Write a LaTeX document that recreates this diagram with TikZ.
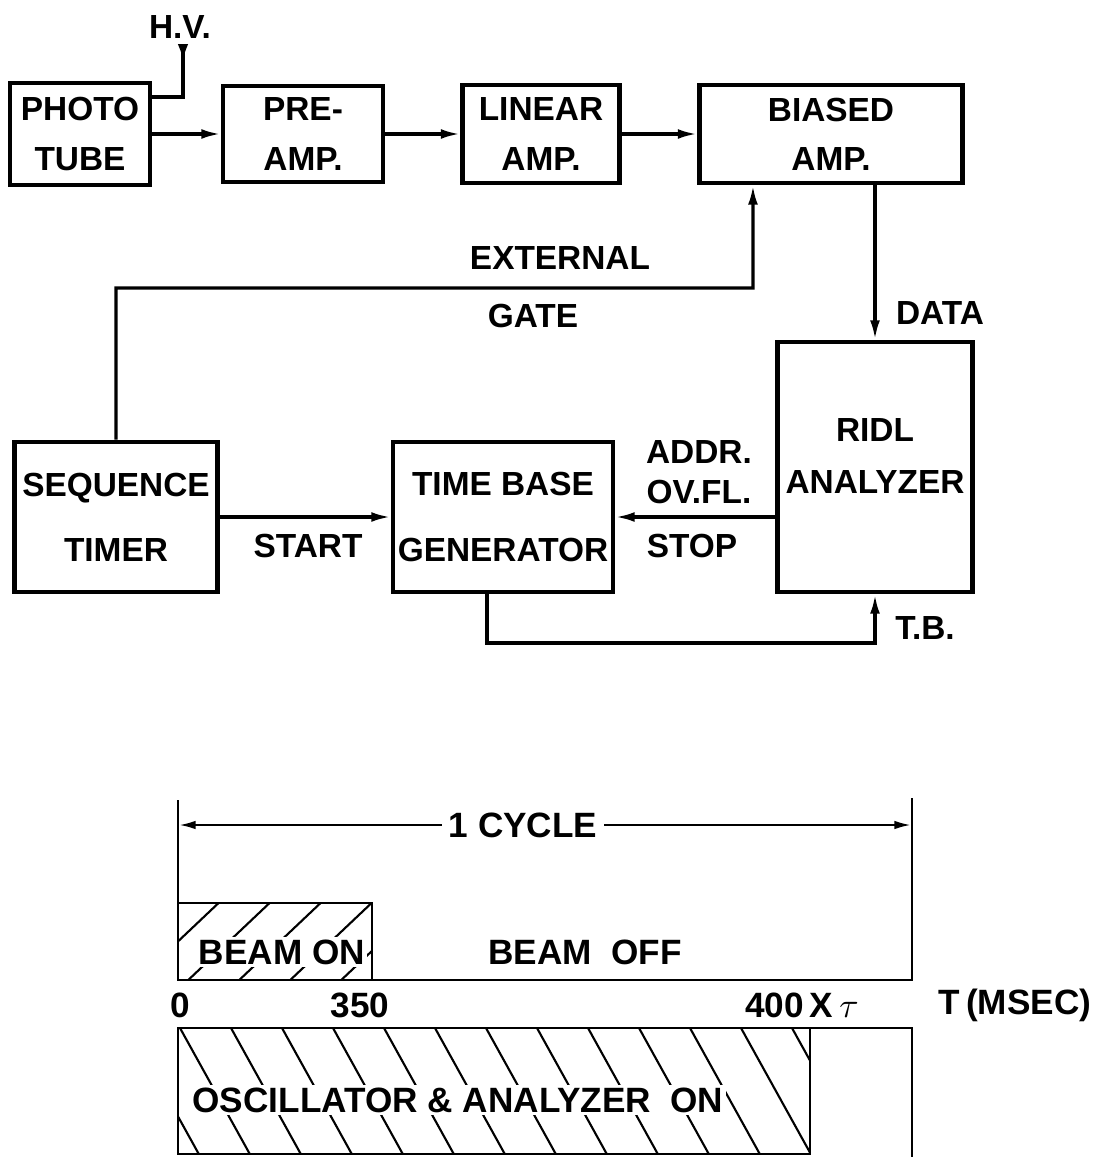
\documentclass[tikz,border=0pt]{standalone}
\usepackage{fontspec}
\setmainfont{Liberation Sans}
\usetikzlibrary{arrows.meta, positioning, calc}

\begin{document}
\begin{tikzpicture}[x=0.01cm, y=-0.01cm,
    blk/.style={draw, line width=1.3pt, inner sep=1pt, align=center,
        font=\fontsize{9.5}{14}\selectfont\bfseries},
    sig/.style={line width=0.9pt, -{Latex[length=5.5pt,width=2.8pt]}},
    lbl/.style={font=\fontsize{9.5}{12}\selectfont\bfseries, inner sep=1pt},
    tline/.style={line width=0.8pt},
    hatch/.style={line width=0.6pt},
    tlbl/.style={font=\fontsize{10}{12}\selectfont\bfseries, inner sep=0.6pt}]
    \useasboundingbox (0,0) rectangle (1100,1157);

    % Signal chain
    \node[blk, minimum width=1.40cm, minimum height=1.02cm] (tube) at (80,134) {PHOTO\\TUBE};
    \node[blk, minimum width=1.60cm, minimum height=0.96cm] (pre) at (303,134) {PRE-\\AMP.};
    \node[blk, minimum width=1.57cm, minimum height=0.98cm] (lin) at (541,134) {LINEAR\\AMP.};
    \node[blk, minimum width=2.63cm, minimum height=0.98cm] (bias) at (831,134) {BIASED\\AMP.};
    \draw[sig] (tube) -- (pre);
    \draw[sig] (pre) -- (lin);
    \draw[sig] (lin) -- (bias);

    % High voltage input
    \node[lbl] (hvl) at (180,27) {H.V.};
    \coordinate (hv) at (183,44);
    \draw[line width=0.9pt, {Latex[length=5pt,width=3pt,reversed]}-] (hv) |- ([yshift=0.37cm]tube.east);

    % Lower row
    \node[blk, minimum width=2.03cm, minimum height=1.50cm] (seq) at (116,517) {SEQUENCE\\[4.5pt]TIMER};
    \node[blk, minimum width=2.20cm, minimum height=1.50cm] (tbg) at (503,517) {TIME BASE\\[4.5pt]GENERATOR};
    \node[blk, minimum width=1.95cm, minimum height=2.50cm] (ridl) at (875,467) {};
    \node[lbl, align=center, font=\fontsize{9.5}{15}\selectfont\bfseries] (ridlt) at (875,456) {RIDL\\ANALYZER};

    % Gate, data and timing lines
    \coordinate (gt) at (753,288);
    \draw[sig] (seq.north) |- (gt) -- ([xshift=-0.78cm]bias.south);
    \node[lbl] (ext) at (560,258) {EXTERNAL};
    \node[lbl] (gate) at (533,316) {GATE};
    \draw[sig] (bias.south -| ridl.north) -- (ridl.north);
    \node[lbl] (data) at (940,313) {DATA};
    \draw[sig] (seq) -- (tbg);
    \node[lbl] (start) at (308,546) {START};
    \draw[sig] (ridl.west |- tbg.east) -- (tbg.east);
    \node[lbl, align=center, font=\fontsize{9.5}{11.5}\selectfont\bfseries] (ovfl) at (699,472) {ADDR.\\OV.FL.};
    \node[lbl] (stop) at (692,546) {STOP};
    \coordinate (tb) at (875,643);
    \draw[sig] ([xshift=-0.16cm]tbg.south) |- (tb) -- (ridl.south);
    \node[lbl] (tbl) at (925,628) {T.B.};

    % Timing chart
    \draw[tline] (178,800) -- (178,980) -- (912,980) -- (912,798);
    \draw[tline, {Latex[length=5pt,width=2.4pt]}-{Latex[length=5pt,width=2.4pt]}] (178,825) -- (912,825)
        node[pos=0.47, fill=white, tlbl, inner sep=2pt] (cyc) {1 CYCLE};
    \begin{scope}
        \clip (178,903) rectangle (372,980);
        \foreach \x in {132,183,...,500}
            \draw[hatch] (\x,985) -- ++(95,-90);
    \end{scope}
    \draw[tline] (178,903) rectangle (372,980);
    \node[tlbl, fill=white] (bon) at (282,952) {BEAM ON};
    \node[tlbl] (boff) at (585,952) {BEAM\ \ OFF};

    \node[tlbl] (t0) at (180,1005) {0};
    \node[tlbl] (t350) at (360,1005) {350};
    \node[tlbl] (t400) at (802,1005) {400\,X\,$\tau$};
    \node[tlbl] (tms) at (1015,1005) {T\,(MSEC)};

    \begin{scope}
        \clip (178,1028) rectangle (810,1154);
        \foreach \x in {129,180,...,820}
            \draw[hatch] (\x,1028) -- ++(72,130);
    \end{scope}
    \draw[tline] (912,1157) -- (912,1028) -- (178,1028) -- (178,1154) -- (810,1154) -- (810,1028);
    \node[tlbl, fill=white] (osc) at (458,1100) {OSCILLATOR \& ANALYZER\ \ ON};
\end{tikzpicture}
\end{document}
